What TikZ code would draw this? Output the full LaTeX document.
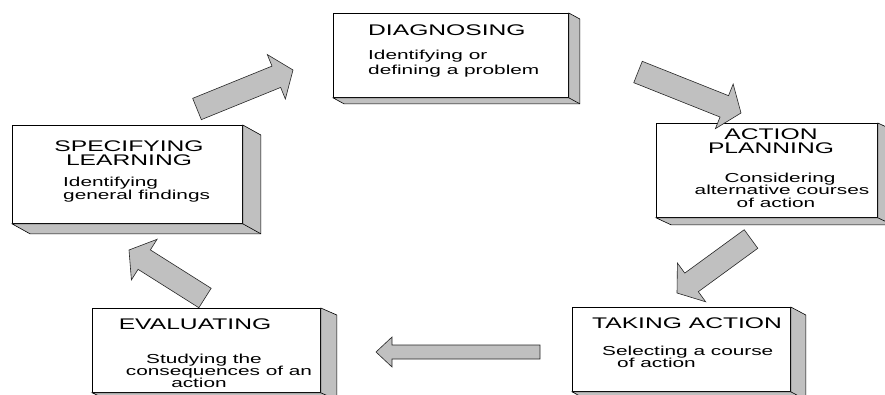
\documentclass[tikz,border=0pt]{standalone}
\usepackage{fontspec}
\setmainfont{Liberation Sans}
\usepackage{graphicx}
\usetikzlibrary{calc}
\definecolor{shade}{RGB}{192,192,192}
\newcommand{\stretchtxt}[1]{\scalebox{1.6}[1]{#1}}
\newcommand{\extrude}[3]{%
  \draw[sideface] (#1.north east) -- ++(#2,#3) -- ($(#1.south east)+(#2,#3)$) -- ($(#1.south west)+(#2,#3)$) -- (#1.south west) -- (#1.south east) -- cycle;
  \draw[sideface] (#1.south east) -- ++(#2,#3);}
\newcommand{\fatarrow}[5]{%
  \coordinate (fatN) at ($(#2)!#5!(#1)$);
  \draw[barrow] ($(#1)!#3!90:(#2)$) -- ($(fatN)!#3!90:(#2)$) -- ($(fatN)!#4!90:(#2)$) -- (#2) -- ($(fatN)!#4!-90:(#2)$) -- ($(fatN)!#3!-90:(#2)$) -- ($(#1)!#3!-90:(#2)$) -- cycle;}
\tikzset{
  frontbox/.style={draw=black, line width=0.8pt, fill=white, inner sep=0pt, anchor=north west},
  sideface/.style={draw=black, line width=0.6pt, fill=shade, line join=miter},
  barrow/.style={draw=black!85, line width=0.6pt, fill=shade, line join=miter},
  ttl/.style={inner sep=0pt, font=\fontsize{15.4pt}{16pt}\selectfont},
  bdy/.style={inner sep=0pt, font=\fontsize{13pt}{14pt}\selectfont},
}
\begin{document}
\begin{tikzpicture}[x=1pt,y=-1pt]
\fill[white] (0,0) rectangle (885,394);
\useasboundingbox (0,0) rectangle (885,394);

% boxes
\node[frontbox, minimum width=235pt, minimum height=84pt] (D) at (333,13) {};
\extrude{D}{11}{6}
\node[frontbox, minimum width=230pt, minimum height=98pt] (S) at (12,125) {};
\extrude{S}{18}{10}
\node[frontbox, minimum width=221pt, minimum height=94pt] (A) at (656,123) {};
\extrude{A}{15}{7}
\node[frontbox, minimum width=228pt, minimum height=84pt] (E) at (92,308) {};
\extrude{E}{16}{7}
\node[frontbox, minimum width=218pt, minimum height=84pt] (T) at (572,307) {};
\extrude{T}{15}{8}

% texts
\node[ttl, anchor=base west] (Dt) at (368,35) {\stretchtxt{DIAGNOSING}};
\node[bdy, anchor=base west] (Db1) at (368,59) {\stretchtxt{Identifying or}};
\node[bdy, anchor=base west] (Db2) at (368,74) {\stretchtxt{defining a problem}};

\node[ttl, anchor=base] (St1) at (129,151) {\stretchtxt{SPECIFYING}};
\node[ttl, anchor=base] (St2) at (129,165) {\stretchtxt{LEARNING}};
\node[bdy, anchor=base west] (Sb1) at (63,186) {\stretchtxt{Identifying}};
\node[bdy, anchor=base west] (Sb2) at (63,199) {\stretchtxt{general findings}};

\node[ttl, anchor=base] (At1) at (771,139) {\stretchtxt{ACTION}};
\node[ttl, anchor=base] (At2) at (771,153) {\stretchtxt{PLANNING}};
\node[bdy, anchor=base] (Ab1) at (780,182) {\stretchtxt{Considering}};
\node[bdy, anchor=base] (Ab2) at (782,194.5) {\stretchtxt{alternative courses}};
\node[bdy, anchor=base] (Ab3) at (776,207) {\stretchtxt{of action}};

\node[ttl, anchor=base] (Et) at (195,329) {\stretchtxt{EVALUATING}};
\node[bdy, anchor=base] (Eb1) at (204,363) {\stretchtxt{Studying the}};
\node[bdy, anchor=base] (Eb2) at (219,375) {\stretchtxt{consequences of an}};
\node[bdy, anchor=base] (Eb3) at (199,387.5) {\stretchtxt{action}};

\node[ttl, anchor=base] (Tt) at (687,328) {\stretchtxt{TAKING ACTION}};
\node[bdy, anchor=base west] (Tb1) at (602,355) {\stretchtxt{Selecting a course}};
\node[bdy, anchor=base west] (Tb2) at (617,367.5) {\stretchtxt{of action}};

% arrows
\coordinate (a1s) at (197,109); \coordinate (a1e) at (293,70);
\coordinate (a2s) at (638,72);  \coordinate (a2e) at (741,113);
\coordinate (a3s) at (751,239); \coordinate (a3e) at (677,293);
\coordinate (a4s) at (540,352); \coordinate (a4e) at (376,352);
\coordinate (a5s) at (205,298); \coordinate (a5e) at (129,250);
\fatarrow{a1s}{a1e}{11.5pt}{24pt}{18pt}
\fatarrow{a2s}{a2e}{11.5pt}{24pt}{18pt}
\fatarrow{a3s}{a3e}{11.5pt}{24pt}{18pt}
\fatarrow{a4s}{a4e}{7pt}{15pt}{16pt}
\fatarrow{a5s}{a5e}{11.5pt}{24pt}{18pt}
\end{tikzpicture}
\end{document}
